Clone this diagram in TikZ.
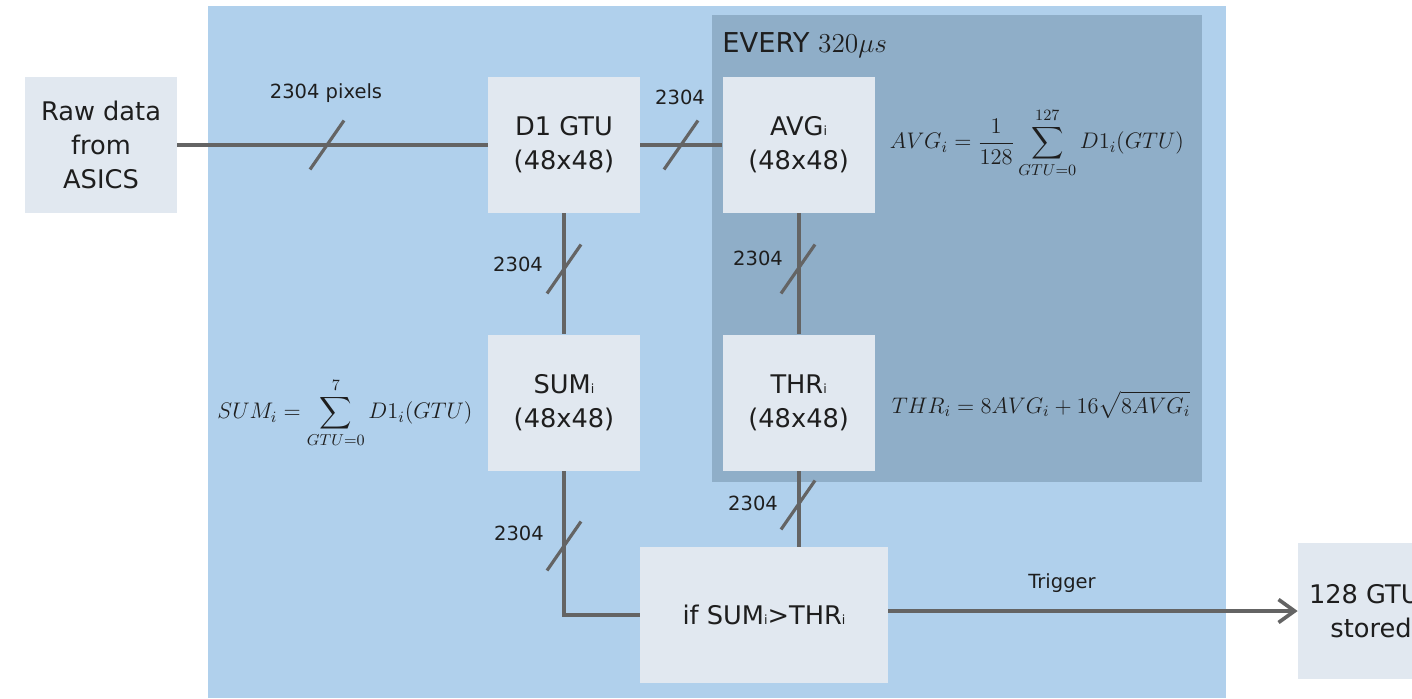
\documentclass[tikz,border=0pt]{standalone}
\usepackage{fix-cm}
\usepackage{amsmath,amssymb}
\usepackage{fontspec}
\setsansfont{DejaVu Sans}
\usepackage{tikz}
\usetikzlibrary{arrows.meta, positioning}
\definecolor{PanelBlue}{RGB}{176, 208, 236}
\definecolor{PanelDeep}{RGB}{143, 174, 200}
\definecolor{BoxPale}{RGB}{225, 232, 240}
\definecolor{WireGrey}{RGB}{100, 100, 100}
\definecolor{InkDark}{RGB}{30, 30, 30}
\newcommand{\lowi}{{\fontsize{7.6pt}{8pt}\selectfont i}}

\begin{document}
\begin{tikzpicture}[
          x=0.6pt, y=-0.6pt,
          node distance=72.6pt,
          box/.style={fill=BoxPale, text=InkDark,
                      font=\sffamily\fontsize{15.4}{20.4}\selectfont,
                      align=center, inner sep=0pt,
                      minimum width=91.2pt, minimum height=81.6pt},
          lbl/.style={text=InkDark, inner sep=0pt,
                      font=\sffamily\fontsize{11.7}{14}\selectfont},
          eqn/.style={text=InkDark, inner sep=0pt,
                      font=\fontsize{13.5}{16}\selectfont},
          wire/.style={WireGrey, line width=2.2pt},
          tick/.style={WireGrey, line width=1.9pt}
        ]
        \useasboundingbox (0,0) rectangle (1412,698);
        \clip (0,0) rectangle (1412,698);
        % panels
        \fill[PanelBlue] (208,6) rectangle (1226,698);
        \fill[PanelDeep] (712,15) rectangle (1202,482);
        \node[lbl, anchor=west, font=\sffamily\fontsize{16.4}{18}\selectfont]
          (every) at (722,45) {EVERY \(320\mu s\)};
        % blocks
        \node[box] (raw) at (101,145) {Raw data\\from\\ASICS};
        \node[box] (d1) at (564,145) {D1 GTU\\(48x48)};
        \node[box, right=49.2pt of d1] (avg) {AVG\lowi\\(48x48)};
        \node[box, below=of d1] (sum) {SUM\lowi\\(48x48)};
        \node[box, below=of avg] (thr) {THR\lowi\\(48x48)};
        \node[box, minimum width=148.8pt] (cmp) at (764,615) {if SUM\lowi>THR\lowi};
        \node[box, minimum width=87.6pt] (store) at (1371,611) {128 GTUs\\stored};
        % formulas
        \node[eqn] (avgeq) at (1037,143)
          {\(\displaystyle AVG_i=\frac{1}{128}\sum_{GTU=0}^{127}D1_i(GTU)\)};
        \node[eqn] (sumeq) at (345,413)
          {\(\displaystyle SUM_i=\sum_{GTU=0}^{7}D1_i(GTU)\)};
        \node[eqn] (threq) at (1041,405)
          {\(\displaystyle THR_i=8AVG_i+16\sqrt{8AVG_i}\)};
        % connectors
        \draw[wire] (raw) -- (d1);
        \draw[wire] (d1) -- (avg);
        \draw[wire] (d1) -- (sum);
        \draw[wire] (avg) -- (thr);
        \draw[wire] (thr.south) -- (thr.south |- cmp.north);
        \draw[wire] (sum.south) |- (cmp.west);
        \draw[wire, -{Straight Barb[length=9.6pt, width=13.8pt]}]
          (cmp.east |- store.west) -- (store.west);
        \node[lbl] (trig) at (1062,583) {Trigger};
        % bus width ticks
        \foreach \cx/\cy/\lx/\ly/\txt [count=\k] in {327/145/326/93/2304 pixels,
            681/145/680/97/2304, 564/269/518/264/2304, 798/269/758/258/2304,
            564/546/519/533/2304, 798/505/753/503/2304}
        {
          \draw[tick] (\cx,\cy) ++(-17,24.5) -- ++(34,-49);
          \node[lbl] (bus\k) at (\lx,\ly) {\txt};
        }
      \end{tikzpicture}
\end{document}
